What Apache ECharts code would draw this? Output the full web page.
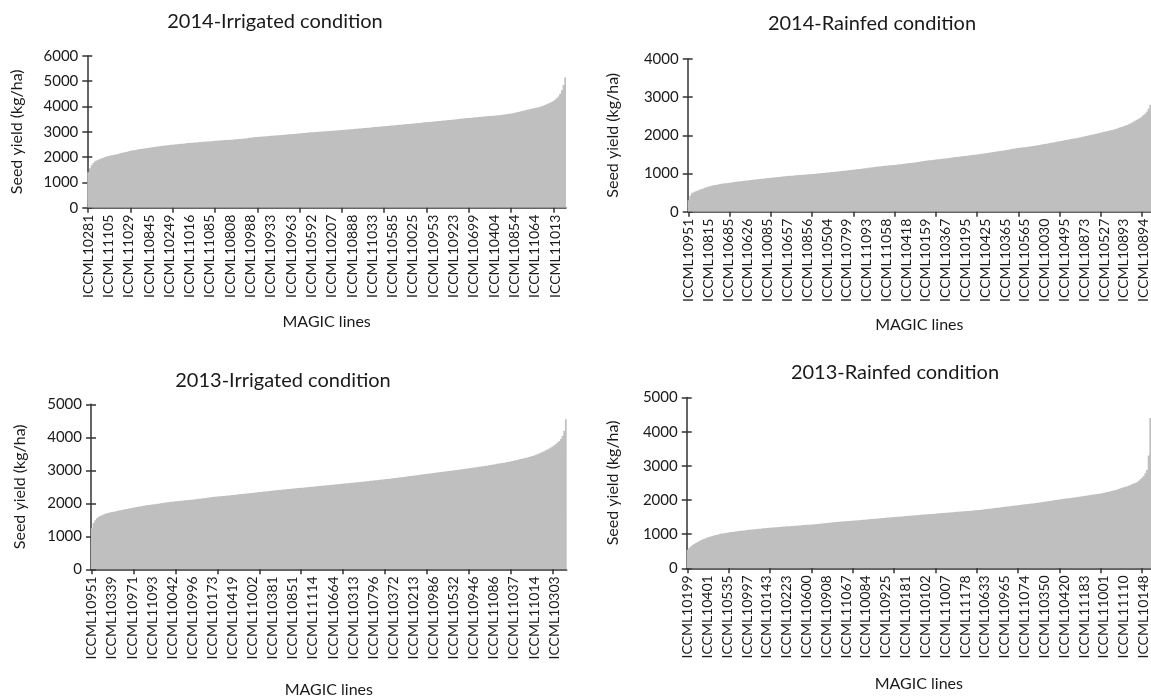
<!DOCTYPE html>
<html><head><meta charset="utf-8">
<script src="https://cdn.jsdelivr.net/npm/echarts@6/dist/echarts.min.js"></script>
<style>html,body{margin:0;padding:0;background:#fff}#c{width:1151px;height:700px}</style>
</head><body><div id="c"></div>
<script>
const titles = ['2014-Irrigated condition','2014-Rainfed condition','2013-Irrigated condition','2013-Rainfed condition'];
const yTitle = 'Seed yield (kg/ha)';
const xTitle = 'MAGIC lines';
const yMaxes = [6000, 4000, 5000, 5000];

const p1Labels = ['ICCML10281','ICCML11105','ICCML11029','ICCML10845','ICCML10249','ICCML11016','ICCML11085','ICCML10808','ICCML10988','ICCML10933','ICCML10963','ICCML10592','ICCML10207','ICCML10888','ICCML11033','ICCML10585','ICCML10025','ICCML10953','ICCML10923','ICCML10699','ICCML10404','ICCML10854','ICCML11064','ICCML11013'];
const p2Labels = ['ICCML10951','ICCML10815','ICCML10685','ICCML10626','ICCML10085','ICCML10657','ICCML10856','ICCML10504','ICCML10799','ICCML11093','ICCML11058','ICCML10418','ICCML10159','ICCML10367','ICCML10195','ICCML10425','ICCML10365','ICCML10565','ICCML10030','ICCML10495','ICCML10873','ICCML10527','ICCML10893','ICCML10894'];
const p3Labels = ['ICCML10951','ICCML10339','ICCML10971','ICCML11093','ICCML10042','ICCML10996','ICCML10173','ICCML10419','ICCML11002','ICCML10381','ICCML10851','ICCML11114','ICCML10664','ICCML10313','ICCML10796','ICCML10372','ICCML10213','ICCML10986','ICCML10532','ICCML10946','ICCML11086','ICCML11037','ICCML11014','ICCML10303'];
const p4Labels = ['ICCML10199','ICCML10401','ICCML10535','ICCML10997','ICCML10143','ICCML10223','ICCML10600','ICCML10908','ICCML11067','ICCML10084','ICCML10925','ICCML10181','ICCML10102','ICCML11007','ICCML11178','ICCML10633','ICCML10965','ICCML11074','ICCML10350','ICCML10420','ICCML11183','ICCML11001','ICCML11110','ICCML10148'];

const p1Values = [
1400,1560,1680,1770,1840,1870,1900,1925,1950,1975,
2000,2020,2040,2055,2070,2085,2100,2115,2130,2150,
2170,2185,2200,2215,2230,2250,2260,2275,2285,2300,
2310,2320,2330,2340,2350,2360,2370,2380,2390,2400,
2410,2420,2430,2440,2445,2455,2460,2470,2480,2485,
2490,2500,2505,2510,2520,2525,2530,2540,2545,2555,
2560,2565,2570,2575,2580,2590,2595,2600,2605,2610,
2615,2620,2625,2630,2640,2645,2650,2655,2660,2665,
2670,2675,2680,2680,2685,2690,2700,2705,2710,2715,
2720,2725,2735,2740,2750,2760,2765,2770,2780,2790,
2795,2800,2805,2810,2815,2820,2825,2830,2840,2845,
2850,2855,2860,2865,2870,2875,2880,2890,2895,2900,
2905,2910,2915,2920,2930,2935,2940,2950,2955,2965,
2970,2975,2980,2985,2990,2995,3000,3005,3010,3015,
3020,3025,3030,3035,3040,3045,3050,3055,3060,3065,
3070,3075,3080,3090,3095,3100,3105,3110,3120,3125,
3130,3135,3140,3150,3155,3160,3165,3170,3180,3185,
3190,3195,3200,3210,3215,3220,3225,3230,3240,3245,
3250,3255,3260,3270,3275,3280,3290,3295,3300,3305,
3310,3320,3325,3330,3340,3345,3350,3360,3365,3375,
3380,3385,3390,3400,3405,3410,3420,3425,3430,3440,
3445,3450,3460,3465,3470,3480,3485,3490,3500,3510,
3520,3525,3530,3540,3545,3550,3555,3560,3570,3575,
3580,3585,3590,3595,3600,3610,3615,3620,3625,3630,
3635,3640,3650,3655,3660,3670,3680,3690,3700,3710,
3720,3735,3750,3765,3780,3795,3810,3830,3845,3860,
3880,3895,3910,3925,3940,3955,3970,3985,4010,4030,
4060,4090,4120,4150,4180,4220,4270,4330,4400,4500,
4640,4850,5150];

const p2Values = [
300,420,480,510,530,545,560,580,595,610,
625,640,655,665,680,690,698,706,714,722,
730,736,742,748,754,760,766,772,778,784,
790,795,800,805,810,815,820,825,830,835,
840,845,850,855,860,865,870,875,880,885,
890,894,898,902,906,910,915,920,925,930,
935,938,940,944,948,952,955,958,962,965,
968,972,976,980,983,985,990,994,998,1002,
1006,1010,1015,1020,1024,1028,1032,1036,1040,1045,
1050,1055,1060,1065,1070,1075,1080,1085,1090,1095,
1100,1105,1110,1115,1120,1125,1130,1135,1140,1150,
1155,1160,1165,1170,1175,1180,1185,1190,1195,1200,
1205,1210,1215,1218,1220,1225,1230,1235,1240,1245,
1250,1255,1260,1266,1272,1278,1284,1290,1296,1302,
1308,1314,1320,1326,1332,1338,1344,1350,1355,1360,
1365,1370,1375,1380,1385,1390,1395,1400,1405,1410,
1418,1425,1430,1435,1440,1445,1450,1455,1460,1465,
1470,1476,1482,1488,1494,1500,1506,1512,1518,1524,
1530,1536,1542,1548,1555,1562,1569,1576,1583,1590,
1597,1604,1611,1618,1625,1632,1639,1646,1653,1660,
1666,1672,1678,1684,1690,1696,1702,1708,1714,1720,
1727,1734,1741,1748,1756,1764,1772,1780,1788,1796,
1804,1812,1820,1828,1836,1844,1852,1860,1868,1876,
1884,1892,1900,1908,1916,1924,1932,1940,1950,1960,
1970,1980,1990,2000,2010,2020,2030,2040,2050,2060,
2070,2080,2090,2100,2110,2120,2130,2140,2150,2165,
2180,2195,2210,2225,2240,2255,2270,2290,2310,2335,
2360,2385,2410,2435,2460,2490,2530,2570,2620,2700,
2800];

const p3Values = [
1250,1400,1490,1550,1590,1615,1640,1660,1680,1695,
1710,1720,1735,1745,1755,1770,1780,1790,1800,1810,
1820,1830,1840,1850,1860,1870,1880,1890,1900,1905,
1915,1925,1935,1945,1950,1955,1965,1970,1975,1985,
1990,2000,2010,2020,2025,2030,2035,2045,2050,2055,
2060,2065,2070,2075,2080,2085,2090,2095,2100,2105,
2110,2115,2120,2130,2135,2140,2150,2155,2160,2170,
2175,2180,2190,2195,2200,2205,2210,2215,2220,2225,
2230,2235,2240,2245,2250,2255,2260,2270,2275,2280,
2285,2290,2295,2300,2305,2310,2315,2320,2330,2335,
2340,2345,2350,2355,2360,2365,2370,2380,2385,2390,
2395,2400,2405,2410,2415,2420,2425,2430,2435,2440,
2445,2450,2455,2460,2465,2470,2475,2480,2485,2490,
2495,2500,2505,2510,2515,2520,2525,2530,2535,2540,
2545,2550,2555,2560,2565,2570,2575,2580,2585,2590,
2595,2600,2605,2610,2615,2620,2625,2630,2635,2640,
2645,2650,2655,2660,2665,2670,2680,2685,2690,2695,
2700,2705,2710,2720,2725,2730,2735,2740,2745,2755,
2760,2765,2770,2780,2785,2790,2800,2805,2810,2820,
2825,2830,2840,2845,2850,2860,2865,2870,2880,2885,
2890,2900,2905,2910,2920,2925,2930,2940,2945,2950,
2960,2965,2970,2980,2985,2990,3000,3005,3010,3020,
3025,3030,3040,3045,3055,3060,3070,3075,3080,3090,
3095,3105,3110,3120,3125,3135,3140,3150,3160,3170,
3175,3185,3195,3205,3210,3220,3230,3240,3250,3260,
3270,3280,3290,3305,3315,3325,3340,3350,3365,3380,
3390,3405,3420,3435,3450,3470,3490,3510,3530,3555,
3580,3605,3630,3660,3690,3720,3760,3800,3840,3890,
3950,4050,4200,4550];

const p4Values = [
540,600,640,680,710,740,770,795,820,840,
860,880,900,915,930,945,960,972,985,998,
1010,1018,1026,1034,1042,1050,1060,1066,1072,1078,
1084,1090,1096,1102,1108,1114,1120,1125,1130,1135,
1140,1145,1150,1155,1160,1165,1170,1175,1180,1184,
1188,1192,1196,1200,1204,1208,1212,1216,1220,1224,
1228,1231,1234,1237,1240,1244,1248,1252,1256,1260,
1264,1268,1272,1276,1278,1280,1285,1290,1295,1300,
1305,1310,1315,1320,1325,1330,1335,1340,1345,1350,
1355,1360,1364,1368,1372,1376,1380,1383,1386,1389,
1392,1396,1400,1405,1410,1414,1418,1422,1426,1430,
1435,1440,1444,1448,1452,1456,1460,1465,1470,1475,
1480,1484,1488,1492,1496,1500,1504,1508,1512,1516,
1520,1524,1528,1532,1536,1540,1544,1548,1552,1556,
1560,1564,1568,1572,1576,1580,1584,1588,1592,1596,
1600,1604,1608,1612,1616,1620,1624,1628,1632,1636,
1640,1644,1648,1652,1656,1660,1664,1668,1672,1676,
1680,1684,1688,1692,1696,1700,1705,1710,1716,1722,
1728,1734,1740,1746,1752,1758,1764,1770,1776,1782,
1790,1795,1800,1806,1812,1818,1824,1830,1836,1842,
1848,1854,1860,1866,1872,1878,1884,1890,1895,1900,
1906,1912,1920,1928,1935,1942,1949,1956,1963,1970,
1977,1984,1991,1998,2005,2012,2019,2026,2033,2040,
2047,2054,2061,2068,2075,2082,2089,2096,2103,2110,
2117,2124,2131,2138,2145,2152,2160,2167,2175,2182,
2190,2200,2210,2220,2232,2244,2256,2268,2280,2295,
2310,2325,2340,2355,2370,2385,2400,2420,2440,2460,
2480,2500,2520,2560,2610,2650,2700,2780,2880,3300,
4400];

const FONT = 'Lato';
const TXT = '#1a1a1a';
const AX = '#333';
const BAR = '#bfbfbf';
const LABEL_STEP = 12;
const TICK_STEP = 25;

const panels = [
  {labels:p1Labels, values:p1Values, grid:{left:87.3, top:55.9, width:478.7, height:151.8}, title:[275,12], yGap:62, xGap:106},
  {labels:p2Labels, values:p2Values, grid:{left:687.7, top:58.9, width:463.3, height:152.8}, title:[872,14], yGap:67, xGap:105},
  {labels:p3Labels, values:p3Values, grid:{left:91, top:404.3, width:475.7, height:165}, title:[283,371], yGap:63, xGap:113},
  {labels:p4Labels, values:p4Values, grid:{left:686.7, top:397.5, width:464.3, height:170.8}, title:[895,363], yGap:66, xGap:108}
];

function cats(labels, n){
  const a = [];
  for (let i = 0; i < n; i++) {
    a.push(i % LABEL_STEP === 0 && labels[i / LABEL_STEP] ? labels[i / LABEL_STEP] : '');
  }
  return a;
}

const option = {animation:false, backgroundColor:'#fff', title:[], grid:[], xAxis:[], yAxis:[], series:[]};
panels.forEach((p, k) => {
  const c = cats(p.labels, p.values.length);
  option.title.push({text:titles[k], left:p.title[0], top:p.title[1], textAlign:'center', padding:0,
    textStyle:{fontFamily:FONT, fontSize:20, fontWeight:'normal', color:TXT}});
  option.grid.push(Object.assign({outerBoundsMode:'none', containLabel:false}, p.grid));
  option.xAxis.push({type:'category', gridIndex:k, data:c, position:'bottom',
    name:xTitle, nameLocation:'middle', nameGap:p.xGap,
    nameTextStyle:{fontFamily:FONT, fontSize:16, color:TXT},
    axisLine:{lineStyle:{color:AX, width:1.5}},
    axisTick:{show:true, alignWithLabel:true, interval:TICK_STEP-1, length:5, lineStyle:{color:AX, width:1.5}},
    axisLabel:{interval:LABEL_STEP-1, rotate:90, margin:7, fontFamily:FONT, fontSize:14, color:TXT},
    splitLine:{show:false}});
  option.xAxis.push({type:'category', gridIndex:k, data:c, position:'bottom',
    axisLine:{show:false},
    axisTick:{show:true, inside:true, alignWithLabel:true, interval:TICK_STEP-1, length:5, lineStyle:{color:AX, width:1.5}},
    axisLabel:{show:false}, splitLine:{show:false}});
  option.yAxis.push({type:'value', gridIndex:k, min:0, max:yMaxes[k], interval:1000,
    name:yTitle, nameLocation:'middle', nameGap:p.yGap,
    nameTextStyle:{fontFamily:FONT, fontSize:16, color:TXT},
    axisLine:{show:true, lineStyle:{color:AX, width:1.5}},
    axisTick:{show:true, length:5, lineStyle:{color:AX, width:1.5}},
    axisLabel:{margin:9, fontFamily:FONT, fontSize:15, color:TXT, formatter:(v) => String(v)},
    splitLine:{show:false}});
  option.yAxis.push({type:'value', gridIndex:k, min:0, max:yMaxes[k], interval:1000, position:'left',
    axisLine:{show:false},
    axisTick:{show:true, inside:true, length:5, lineStyle:{color:AX, width:1.5}},
    axisLabel:{show:false}, splitLine:{show:false}});
  option.series.push({type:'bar', xAxisIndex:2*k, yAxisIndex:2*k, data:p.values,
    barCategoryGap:'0%', large:true, largeThreshold:50,
    itemStyle:{color:BAR}, silent:true, z:1});
});

const chart = echarts.init(document.getElementById('c'), null, {renderer:'canvas'});
chart.setOption(option);
</script></body></html>
